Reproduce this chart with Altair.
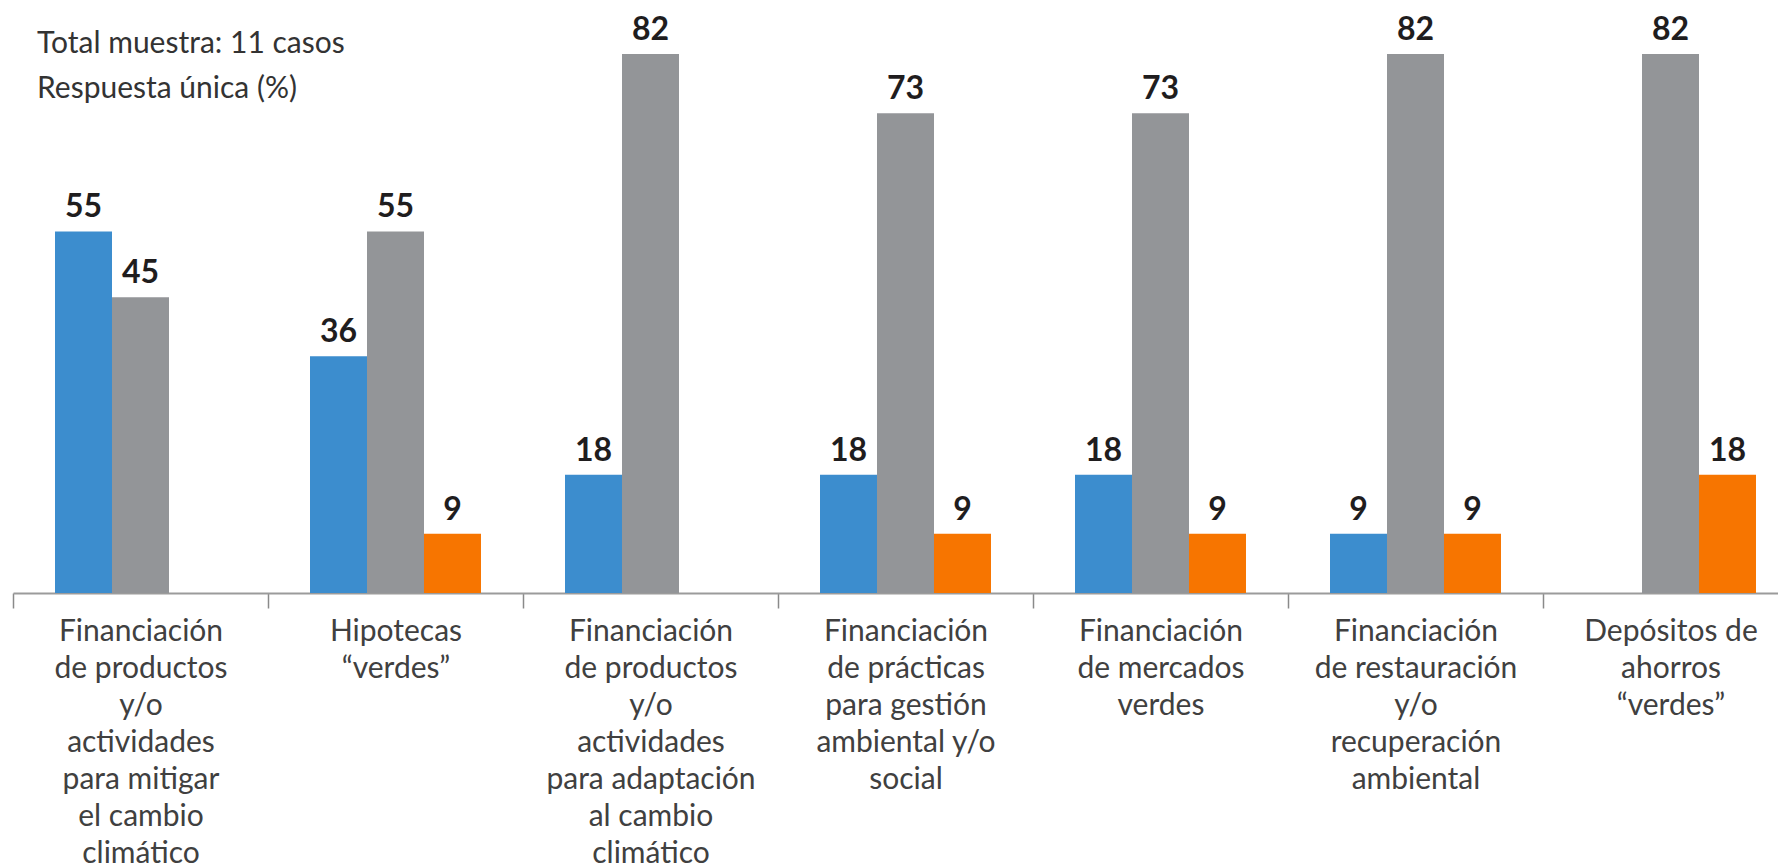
import altair as alt
import pandas as pd

categories = [
    "Financiación\nde productos\ny/o\nactividades\npara mitigar\nel cambio\nclimático",
    "Hipotecas\n“verdes”",
    "Financiación\nde productos\ny/o\nactividades\npara adaptación\nal cambio\nclimático",
    "Financiación\nde prácticas\npara gestión\nambiental y/o\nsocial",
    "Financiación\nde mercados\nverdes",
    "Financiación\nde restauración\ny/o\nrecuperación\nambiental",
    "Depósitos de\nahorros\n“verdes”",
]
series = ["Sí", "No", "En planes"]
blue_vals = [55, 36, 18, 18, 18, 9, None]
gray_vals = [45, 55, 82, 73, 73, 82, 82]
orange_vals = [None, 9, None, 9, 9, 9, 18]
colors = ["#3C8DCE", "#939598", "#F77500"]
title_lines = ["Total muestra: 11 casos", "Respuesta única (%)"]

rows = []
for i, c in enumerate(categories):
    for s, vals in zip(series, [blue_vals, gray_vals, orange_vals]):
        v = vals[i]
        if v is not None:
            rows.append({"cat": c, "serie": s, "valor": v})
df = pd.DataFrame(rows)

x_enc = alt.X(
    "cat:N",
    sort=categories,
    scale=alt.Scale(domain=categories, range=[0, 1785], paddingInner=0, paddingOuter=0),
    axis=alt.Axis(
        title=None,
        labelAngle=0,
        labelExpr="split(datum.label, '\\n')",
        labelFont="Lato",
        labelFontSize=30,
        labelColor="#404040",
        labelLineHeight=37,
        labelPadding=8,
        labelLimit=1000,
        labelOverlap=False,
        domainColor="#9b9b9b",
        domainWidth=2,
        tickColor="#8a8a8a",
        tickWidth=1.5,
        tickSize=15,
        tickBand="extent",
        grid=False,
    ),
)
xoff = alt.XOffset(
    "serie:N",
    sort=series,
    scale=alt.Scale(domain=series, paddingInner=0, paddingOuter=0.737),
)
y_enc = alt.Y("valor:Q", scale=alt.Scale(domain=[0, 88.24], nice=False), axis=None)

base = alt.Chart(df)
bars = base.mark_bar().encode(
    x=x_enc,
    xOffset=xoff,
    y=y_enc,
    color=alt.Color("serie:N", sort=series, scale=alt.Scale(domain=series, range=colors), legend=None),
)
labels = base.mark_text(
    baseline="alphabetic", dy=-14, font="Lato", fontSize=32, fontWeight="bold", color="#1f1d1e"
).encode(x=x_enc, xOffset=xoff, y=y_enc, text=alt.Text("valor:Q"))

title = alt.Chart(pd.DataFrame({"t": [0]})).mark_text(
    text=title_lines, align="left", baseline="alphabetic", lineHeight=45,
    font="Lato", fontSize=30, color="#333333",
).encode(x=alt.value(24), y=alt.value(40))

chart = alt.layer(bars, labels, title).properties(
    width=1765,
    height=580,
    autosize=alt.AutoSizeParams(type="none"),
    padding={"left": 5, "top": 5, "right": 0, "bottom": 290},
).configure_view(stroke=None)

chart.save("out.html", embed_options={"renderer": "svg", "actions": False})
